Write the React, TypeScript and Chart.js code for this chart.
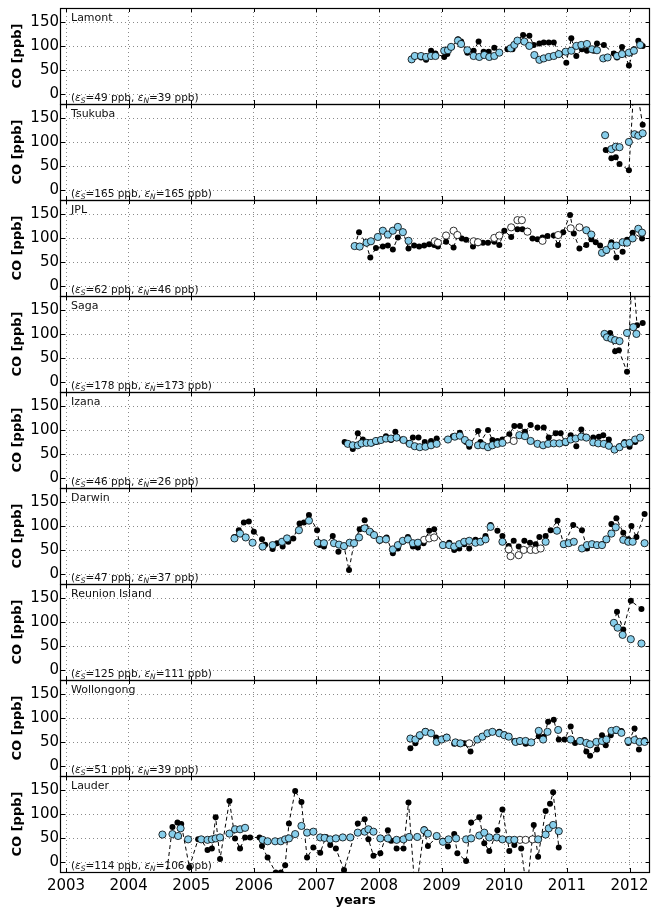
import React, { useEffect, useRef } from 'react';
import { Chart, registerables } from 'chart.js';

Chart.register(...registerables);

type P = [number, number];

const FONT = '"DejaVu Sans", sans-serif';

const stationNames = ['Lamont', 'Tsukuba', 'JPL', 'Saga', 'Izana', 'Darwin', 'Reunion Island', 'Wollongong', 'Lauder'];
const errorS = [49, 165, 62, 178, 46, 47, 125, 51, 114];
const errorN = [39, 165, 46, 173, 26, 37, 111, 39, 106];
const yearTicks = [2003, 2004, 2005, 2006, 2007, 2008, 2009, 2010, 2011, 2012];
const coTicks = [0, 50, 100, 150];
const YEAR_MIN = 2002.92;
const YEAR_MAX = 2012.33;
const CO_MIN = -20;
const CO_MAX = 180;

// ---- Lamont ----
const lamontObs: P[] = [[2008.52,72],[2008.67,77],[2008.75,72],[2008.83,91],[2008.90,85],[2009.04,78],[2009.09,84],[2009.16,98],[2009.26,115],[2009.31,110],[2009.41,87],[2009.51,91],[2009.59,110],[2009.67,89],[2009.75,89],[2009.84,97],[2009.92,87],[2010.05,94],[2010.13,94],[2010.21,112],[2010.30,124],[2010.40,122],[2010.47,103],[2010.56,106],[2010.63,108],[2010.71,108],[2010.79,108],[2010.89,84],[2010.99,66],[2011.07,117],[2011.15,80],[2011.24,94],[2011.32,91],[2011.43,91],[2011.48,106],[2011.59,103],[2011.75,85],[2011.80,77],[2011.88,99],[2011.99,60],[2012.07,94],[2012.14,112],[2012.21,101]];
const lamontModel: P[] = [[2008.52,73],[2008.57,80],[2008.67,80],[2008.75,78],[2008.83,80],[2008.90,80],[2009.04,91],[2009.10,92],[2009.15,99],[2009.26,112],[2009.31,105],[2009.41,92],[2009.51,80],[2009.60,78],[2009.68,82],[2009.76,78],[2009.84,80],[2009.92,87],[2010.10,96],[2010.16,103],[2010.21,112],[2010.32,110],[2010.40,101],[2010.48,82],[2010.56,72],[2010.63,75],[2010.71,78],[2010.79,80],[2010.87,84],[2010.98,89],[2011.07,91],[2011.15,101],[2011.23,103],[2011.32,105],[2011.40,94],[2011.48,92],[2011.58,75],[2011.65,77],[2011.80,80],[2011.88,84],[2011.99,87],[2012.07,91],[2012.17,103]];
const lamontModelOpen: P[] = [];

// ---- Tsukuba ----
const tsukubaObs: P[] = [[2011.62,84],[2011.71,67],[2011.78,69],[2011.84,55],[2011.99,42],[2012.08,240],[2012.21,137]];
const tsukubaModel: P[] = [[2011.61,115],[2011.71,86],[2011.78,91],[2011.84,90],[2011.99,101],[2012.08,117],[2012.14,114],[2012.21,119]];
const tsukubaModelOpen: P[] = [];

// ---- JPL ----
const jplObs: P[] = [[2007.61,84],[2007.68,113],[2007.79,90],[2007.86,60],[2007.95,80],[2008.06,83],[2008.14,85],[2008.22,77],[2008.30,102],[2008.38,114],[2008.47,79],[2008.56,85],[2008.64,83],[2008.72,85],[2008.80,88],[2008.88,86],[2008.94,83],[2009.07,93],[2009.19,81],[2009.25,105],[2009.32,100],[2009.39,97],[2009.50,83],[2009.58,90],[2009.66,91],[2009.74,91],[2009.84,93],[2009.92,86],[2010.00,116],[2010.11,103],[2010.21,119],[2010.29,119],[2010.37,116],[2010.45,100],[2010.53,98],[2010.61,102],[2010.69,105],[2010.79,106],[2010.86,86],[2010.94,113],[2011.05,149],[2011.11,110],[2011.20,79],[2011.31,86],[2011.39,98],[2011.46,92],[2011.53,85],[2011.63,74],[2011.71,92],[2011.79,60],[2011.89,72],[2011.96,97],[2012.05,112],[2012.20,100]];
const jplModel: P[] = [[2007.61,84],[2007.69,83],[2007.80,91],[2007.87,94],[2007.98,103],[2008.06,116],[2008.14,108],[2008.22,116],[2008.30,124],[2008.38,113],[2008.47,95],[2011.31,117],[2011.39,108],[2011.56,70],[2011.63,76],[2011.71,85],[2011.79,85],[2011.89,92],[2011.96,91],[2012.05,100],[2012.14,120],[2012.20,112]];
const jplModelOpen: P[] = [[2008.89,94],[2008.94,91],[2009.07,106],[2009.19,116],[2009.25,107],[2009.51,94],[2009.58,92],[2009.84,101],[2009.92,106],[2010.11,123],[2010.21,138],[2010.28,138],[2010.37,114],[2010.61,95],[2010.86,107],[2011.06,121],[2011.20,123]];

// ---- Saga ----
const sagaObs: P[] = [[2011.61,98],[2011.69,103],[2011.77,65],[2011.83,67],[2011.96,22],[2012.05,237],[2012.12,119],[2012.21,124]];
const sagaModel: P[] = [[2011.60,101],[2011.64,94],[2011.71,91],[2011.77,88],[2011.84,86],[2011.96,103],[2012.06,115],[2012.11,101]];
const sagaModelOpen: P[] = [];

// ---- Izana ----
const izanaObs: P[] = [[2007.45,76],[2007.58,61],[2007.66,94],[2007.74,81],[2007.81,76],[2007.89,73],[2007.96,76],[2008.04,81],[2008.11,88],[2008.19,80],[2008.26,97],[2008.37,81],[2008.47,74],[2008.54,85],[2008.63,85],[2008.73,76],[2008.83,78],[2008.92,83],[2009.10,81],[2009.18,88],[2009.29,95],[2009.39,76],[2009.44,66],[2009.58,99],[2009.62,76],[2009.74,101],[2009.81,80],[2009.89,78],[2009.97,81],[2010.08,92],[2010.16,109],[2010.25,109],[2010.33,97],[2010.42,111],[2010.53,106],[2010.63,106],[2010.71,85],[2010.82,94],[2010.90,94],[2010.98,73],[2011.06,90],[2011.15,67],[2011.23,102],[2011.30,87],[2011.42,85],[2011.51,87],[2011.58,90],[2011.67,81],[2011.76,59],[2011.84,67],[2011.92,76],[2012.00,66],[2012.09,76],[2012.17,85]];
const izanaModel: P[] = [[2007.50,72],[2007.58,69],[2007.66,69],[2007.72,73],[2007.80,74],[2007.87,74],[2007.95,78],[2008.03,80],[2008.11,83],[2008.19,83],[2008.28,85],[2008.39,80],[2008.49,72],[2008.57,67],[2008.65,65],[2008.74,66],[2008.83,69],[2008.92,72],[2009.10,81],[2009.21,87],[2009.29,89],[2009.37,80],[2009.44,73],[2009.58,69],[2009.66,69],[2009.74,65],[2009.81,69],[2009.89,72],[2009.97,74],[2010.24,90],[2010.33,88],[2010.42,78],[2010.53,72],[2010.62,69],[2010.70,72],[2010.79,73],[2010.88,73],[2010.98,76],[2011.06,81],[2011.14,83],[2011.23,87],[2011.31,85],[2011.42,75],[2011.50,73],[2011.59,72],[2011.67,68],[2011.76,60],[2011.84,65],[2011.92,72],[2012.00,74],[2012.09,81],[2012.17,85]];
const izanaModelOpen: P[] = [[2010.05,81],[2010.15,78]];

// ---- Darwin ----
const darwinObs: P[] = [[2005.69,78],[2005.76,92],[2005.84,108],[2005.92,110],[2006.00,89],[2006.13,73],[2006.18,62],[2006.30,53],[2006.37,65],[2006.46,58],[2006.55,68],[2006.63,75],[2006.73,106],[2006.80,108],[2006.88,124],[2007.01,92],[2007.05,61],[2007.12,58],[2007.26,80],[2007.35,47],[2007.44,58],[2007.52,9],[2007.60,66],[2007.69,94],[2007.77,113],[2007.88,87],[2008.01,70],[2008.12,77],[2008.22,44],[2008.30,54],[2008.38,68],[2008.46,78],[2008.54,58],[2008.62,56],[2008.71,65],[2008.80,91],[2008.88,94],[2009.02,63],[2009.12,66],[2009.20,51],[2009.28,54],[2009.36,63],[2009.44,54],[2009.54,72],[2009.62,70],[2009.70,80],[2009.78,103],[2009.89,91],[2009.97,80],[2010.07,59],[2010.15,70],[2010.23,58],[2010.32,70],[2010.41,66],[2010.50,63],[2010.56,78],[2010.66,80],[2010.74,92],[2010.85,112],[2010.95,61],[2011.10,103],[2011.24,92],[2011.32,54],[2011.40,63],[2011.48,61],[2011.56,63],[2011.63,72],[2011.71,105],[2011.79,117],[2011.90,87],[2011.98,73],[2012.03,101],[2012.11,78],[2012.24,126]];
const darwinModel: P[] = [[2005.69,75],[2005.78,85],[2005.87,77],[2005.98,66],[2006.14,58],[2006.30,61],[2006.45,68],[2006.53,75],[2006.72,92],[2006.88,112],[2007.02,66],[2007.12,65],[2007.28,65],[2007.36,62],[2007.44,59],[2007.53,66],[2007.60,65],[2007.68,77],[2007.77,96],[2007.85,89],[2007.92,82],[2008.01,72],[2008.11,73],[2008.22,52],[2008.30,61],[2008.38,70],[2008.46,73],[2008.54,65],[2008.62,66],[2009.02,61],[2009.12,61],[2009.20,58],[2009.28,63],[2009.36,68],[2009.44,70],[2009.54,66],[2009.62,68],[2009.70,73],[2009.78,99],[2009.97,68],[2010.66,68],[2010.84,91],[2010.95,63],[2011.03,65],[2011.11,68],[2011.24,54],[2011.32,61],[2011.40,63],[2011.48,61],[2011.56,61],[2011.63,73],[2011.71,85],[2011.78,98],[2011.90,72],[2011.98,68],[2012.05,68],[2012.24,65]];
const darwinModelOpen: P[] = [[2008.72,72],[2008.80,75],[2008.88,77],[2010.07,52],[2010.10,38],[2010.23,40],[2010.31,51],[2010.42,51],[2010.50,51],[2010.58,54]];

// ---- Reunion Island ----
const reunionObs: P[] = [[2011.75,99],[2011.80,122],[2011.90,85],[2012.02,145],[2012.19,128]];
const reunionModel: P[] = [[2011.75,99],[2011.81,89],[2011.89,74],[2012.02,65],[2012.19,56]];
const reunionModelOpen: P[] = [];

// ---- Wollongong ----
const wollongongObs: P[] = [[2008.50,38],[2008.58,48],[2008.65,62],[2008.74,74],[2008.83,70],[2008.91,60],[2009.02,58],[2009.08,62],[2009.20,47],[2009.28,47],[2009.36,48],[2009.46,31],[2009.57,56],[2009.64,63],[2009.72,67],[2009.81,72],[2009.92,72],[2010.00,67],[2010.07,63],[2010.16,53],[2010.23,51],[2010.34,47],[2010.41,49],[2010.55,63],[2010.63,62],[2010.70,93],[2010.79,97],[2010.87,56],[2010.96,56],[2011.06,83],[2011.13,49],[2011.22,55],[2011.31,31],[2011.37,22],[2011.48,35],[2011.56,65],[2011.62,44],[2011.70,65],[2011.78,74],[2011.87,74],[2011.98,49],[2012.08,79],[2012.15,35],[2012.24,55]];
const wollongongModel: P[] = [[2008.50,58],[2008.58,56],[2008.65,65],[2008.74,72],[2008.83,69],[2008.92,51],[2009.00,56],[2009.08,60],[2009.22,50],[2009.30,48],[2009.57,56],[2009.65,62],[2009.73,69],[2009.81,72],[2009.92,69],[2010.00,65],[2010.07,62],[2010.18,51],[2010.25,53],[2010.34,53],[2010.43,50],[2010.55,74],[2010.62,56],[2010.69,72],[2010.86,76],[2011.06,56],[2011.21,53],[2011.31,49],[2011.37,46],[2011.47,51],[2011.56,53],[2011.63,56],[2011.71,74],[2011.79,76],[2011.87,70],[2011.98,53],[2012.08,55],[2012.16,51],[2012.24,51]];
const wollongongModelOpen: P[] = [[2009.44,48]];

// ---- Lauder ----
const lauderObs: P[] = [[2004.60,-30],[2004.70,74],[2004.78,83],[2004.84,80],[2004.97,-10],[2005.11,48],[2005.16,47],[2005.26,26],[2005.33,29],[2005.39,94],[2005.46,7],[2005.61,128],[2005.70,50],[2005.78,29],[2005.86,52],[2005.94,52],[2006.09,52],[2006.13,34],[2006.22,10],[2006.35,-21],[2006.43,-21],[2006.50,-6],[2006.56,81],[2006.66,149],[2006.76,126],[2006.85,10],[2006.95,31],[2007.06,20],[2007.15,53],[2007.22,36],[2007.31,29],[2007.44,-16],[2007.66,81],[2007.77,90],[2007.83,48],[2007.91,14],[2008.02,19],[2008.14,67],[2008.19,45],[2008.28,29],[2008.39,29],[2008.47,125],[2008.58,-70],[2008.72,69],[2008.78,34],[2008.92,53],[2009.02,45],[2009.10,33],[2009.20,59],[2009.25,19],[2009.39,3],[2009.47,83],[2009.60,94],[2009.68,40],[2009.76,24],[2009.89,67],[2009.97,110],[2010.08,24],[2010.16,36],[2010.27,29],[2010.36,-60],[2010.47,78],[2010.54,12],[2010.66,107],[2010.73,122],[2010.78,146],[2010.87,31]];
const lauderModel: P[] = [[2004.54,58],[2004.70,59],[2004.79,55],[2004.83,71],[2004.95,48],[2005.16,48],[2005.26,47],[2005.33,48],[2005.39,50],[2005.46,52],[2005.61,60],[2005.70,69],[2005.78,69],[2005.86,72],[2006.14,47],[2006.22,44],[2006.34,44],[2006.43,44],[2006.50,48],[2006.56,50],[2006.66,59],[2006.76,76],[2006.85,62],[2006.95,64],[2007.06,52],[2007.13,51],[2007.22,48],[2007.31,50],[2007.42,52],[2007.54,52],[2007.66,62],[2007.77,64],[2007.83,69],[2007.91,64],[2008.02,50],[2008.14,50],[2008.28,47],[2008.39,48],[2008.48,53],[2008.61,53],[2008.72,67],[2008.78,60],[2008.92,55],[2009.02,43],[2009.11,48],[2009.23,50],[2009.39,48],[2009.47,50],[2009.60,56],[2009.68,62],[2009.76,52],[2009.88,52],[2009.97,48],[2010.08,47],[2010.16,47],[2010.54,48],[2010.66,58],[2010.71,71],[2010.78,78],[2010.87,65]];
const lauderModelOpen: P[] = [[2010.25,47],[2010.34,47],[2010.45,48]];

const obsSeries: P[][] = [lamontObs, tsukubaObs, jplObs, sagaObs, izanaObs, darwinObs, reunionObs, wollongongObs, lauderObs];
const modelSeries: P[][] = [lamontModel, tsukubaModel, jplModel, sagaModel, izanaModel, darwinModel, reunionModel, wollongongModel, lauderModel];
const modelOpenSeries: P[][] = [lamontModelOpen, tsukubaModelOpen, jplModelOpen, sagaModelOpen, izanaModelOpen, darwinModelOpen, reunionModelOpen, wollongongModelOpen, lauderModelOpen];

const toXY = (pts: P[]) => pts.map(([x, y]) => ({ x, y }));

// Frames, inward tick marks and in-panel annotations for every stacked panel.
const panelDecor = {
  id: 'panelDecor',
  beforeDatasetDraw(chart: any, args: any) {
    const ys = args.meta.yScale;
    const a = chart.chartArea;
    const ctx = chart.ctx;
    ctx.save();
    ctx.beginPath();
    ctx.rect(a.left, ys.top, a.right - a.left, ys.bottom - ys.top);
    ctx.clip();
  },
  afterDatasetDraw(chart: any) {
    chart.ctx.restore();
  },
  afterDraw(chart: any) {
    const { ctx, chartArea: a, scales } = chart;
    const xs = scales.x;
    ctx.save();
    stationNames.forEach((name, i) => {
      const ys = scales['y' + i];
      const top = Math.round(ys.top);
      const bottom = Math.round(ys.bottom);
      const left = Math.round(a.left);
      const right = Math.round(a.right);
      ctx.strokeStyle = '#000';
      ctx.lineWidth = 1;
      ctx.beginPath();
      for (const yr of yearTicks) {
        const px = Math.round(xs.getPixelForValue(yr)) + 0.5;
        ctx.moveTo(px, bottom);
        ctx.lineTo(px, bottom - 4);
        ctx.moveTo(px, top);
        ctx.lineTo(px, top + 4);
      }
      for (const v of coTicks) {
        const py = Math.round(ys.getPixelForValue(v)) + 0.5;
        ctx.moveTo(left, py);
        ctx.lineTo(left + 4, py);
        ctx.moveTo(right, py);
        ctx.lineTo(right - 4, py);
      }
      ctx.stroke();
      ctx.lineWidth = 1.2;
      ctx.strokeRect(left - 0.5, top + 0.5, right - left, bottom - top);

      ctx.fillStyle = '#111';
      ctx.textBaseline = 'alphabetic';
      ctx.textAlign = 'left';
      ctx.font = `11px ${FONT}`;
      ctx.fillText(name, left + 10, top + 13);

      const parts: { t: string; f: string; dy: number }[] = [
        { t: '(', f: `10.5px ${FONT}`, dy: 0 },
        { t: 'ε', f: `italic 10.5px ${FONT}`, dy: 0 },
        { t: 'S', f: `italic 7.5px ${FONT}`, dy: 2 },
        { t: `=${errorS[i]} ppb, `, f: `10.5px ${FONT}`, dy: 0 },
        { t: 'ε', f: `italic 10.5px ${FONT}`, dy: 0 },
        { t: 'N', f: `italic 7.5px ${FONT}`, dy: 2 },
        { t: `=${errorN[i]} ppb)`, f: `10.5px ${FONT}`, dy: 0 },
      ];
      let x = left + 10;
      const base = bottom - 3.5;
      for (const p of parts) {
        ctx.font = p.f;
        ctx.fillText(p.t, x, base + p.dy);
        x += ctx.measureText(p.t).width;
      }
    });
    ctx.restore();
  },
};

function buildConfig(): any {
  const datasets: any[] = [];
  const scales: any = {
    x: {
      type: 'linear',
      position: 'bottom',
      min: YEAR_MIN,
      max: YEAR_MAX,
      bounds: 'data',
      afterBuildTicks: (s: any) => {
        s.ticks = yearTicks.map((v) => ({ value: v }));
      },
      afterFit: (s: any) => {
        s.height = 39;
        s.paddingLeft = 0;
        s.paddingRight = 0;
      },
      ticks: {
        color: '#000',
        padding: 5,
        autoSkip: false,
        font: { family: FONT, size: 15 },
        callback: (v: any) => String(v),
        maxRotation: 0,
      },
      grid: { color: '#8a8a8a', lineWidth: 1, drawTicks: false },
      border: { display: false, dash: [1, 3] },
      title: {
        display: true,
        text: 'years',
        color: '#000',
        font: { family: FONT, size: 13, weight: 'bold' },
        padding: { top: 0, bottom: 3 },
      },
    },
  };

  stationNames.forEach((name, i) => {
    const id = 'y' + i;
    scales[id] = {
      type: 'linear',
      position: 'left',
      stack: 'panels',
      stackWeight: 1,
      weight: stationNames.length - i,
      min: CO_MIN,
      max: CO_MAX,
      bounds: 'data',
      afterBuildTicks: (s: any) => {
        s.ticks = coTicks.map((v) => ({ value: v }));
      },
      afterFit: (s: any) => {
        s.width = 61;
        s.paddingTop = 0;
        s.paddingBottom = 0;
      },
      ticks: {
        color: '#000',
        padding: 2,
        autoSkip: false,
        font: { family: FONT, size: 15 },
        callback: (v: any) => String(v),
      },
      grid: { color: '#8a8a8a', lineWidth: 1, drawTicks: false },
      border: { display: false, dash: [1, 3] },
      title: {
        display: true,
        text: 'CO [ppb]',
        color: '#000',
        font: { family: FONT, size: 13, weight: 'bold' },
        padding: { top: 10, bottom: 0 },
      },
    };

    datasets.push({
      label: `${name} model`,
      data: toXY(modelSeries[i]),
      yAxisID: id,
      showLine: false,
      pointRadius: 3.6,
      pointBackgroundColor: '#87ceeb',
      pointBorderColor: '#000',
      pointBorderWidth: 0.8,
      order: 0,
    });
    if (modelOpenSeries[i].length) {
      datasets.push({
        label: `${name} model (open)`,
        data: toXY(modelOpenSeries[i]),
        yAxisID: id,
        showLine: false,
        pointRadius: 3.6,
        pointBackgroundColor: '#ffffff',
        pointBorderColor: '#000',
        pointBorderWidth: 0.8,
        order: 0,
      });
    }
    datasets.push({
      label: `${name} FTS`,
      data: toXY(obsSeries[i]),
      yAxisID: id,
      borderColor: '#000',
      borderWidth: 1,
      borderDash: [4, 3],
      tension: 0,
      pointRadius: 3,
      pointBackgroundColor: '#000',
      pointBorderColor: '#000',
      pointBorderWidth: 0,
      order: 1,
    });
  });

  return {
    type: 'line',
    data: { datasets },
    options: {
      responsive: false,
      animation: false,
      events: [],
      layout: { padding: { top: 8, right: 1, left: 0, bottom: 0 } },
      plugins: {
        legend: { display: false },
        tooltip: { enabled: false },
        title: { display: false },
      },
      scales,
    },
    plugins: [panelDecor],
  };
}

export default function App() {
  const canvasRef = useRef<HTMLCanvasElement | null>(null);

  useEffect(() => {
    if (!canvasRef.current) return;
    const chart = new Chart(canvasRef.current, buildConfig());
    return () => chart.destroy();
  }, []);

  return (
    <div style={{ position: 'absolute', left: 0, top: 0, width: 655, height: 911, background: '#fff' }}>
      <canvas ref={canvasRef} width={655} height={911} style={{ display: 'block', width: 655, height: 911 }} />
    </div>
  );
}
